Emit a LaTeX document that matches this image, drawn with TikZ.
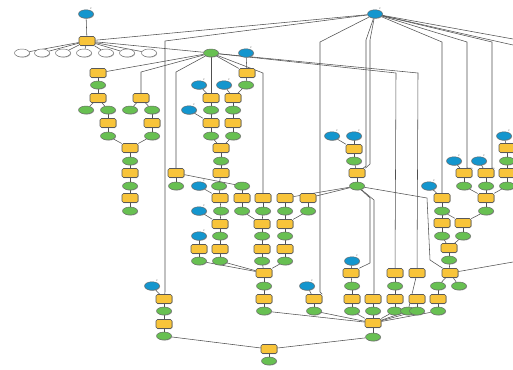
\documentclass[tikz,border=0pt]{standalone}
\usepackage{fontspec}
\usetikzlibrary{shapes.geometric,backgrounds,shadows}
\definecolor{ycol}{RGB}{248,196,58}
\definecolor{gcol}{RGB}{104,192,82}
\definecolor{bcol}{RGB}{20,150,206}
\definecolor{ecol}{RGB}{80,80,80}
\begin{document}
\begin{tikzpicture}[x=1pt,y=-1pt,
  shd/.style={drop shadow={shadow xshift=0.6pt,shadow yshift=-0.6pt,fill=black!50,opacity=0.6}},
  ytool/.style={rectangle,rounded corners=1.5pt,fill=ycol,draw=black!65,line width=0.55pt,minimum width=16pt,minimum height=9pt,inner sep=0pt,shd},
  gdata/.style={ellipse,fill=gcol,draw=black!60,line width=0.45pt,minimum width=15pt,minimum height=8pt,inner sep=0pt,shd},
  bvar/.style={ellipse,fill=bcol,draw=black!60,line width=0.45pt,minimum width=15pt,minimum height=8.5pt,inner sep=0pt,shd,
     label={[font=\tiny,scale=0.45,inner sep=0.2pt,text=black!60]45:P}},
  wout/.style={ellipse,fill=white,draw=black!60,line width=0.45pt,minimum width=15pt,minimum height=8pt,inner sep=0pt,shd},
  conn/.style={draw=ecol,line width=0.55pt}]
\useasboundingbox (0,0) rectangle (513,369);
% ---------- blue variables
\node[bvar] (b1) at (86,14) {};
\node[bvar] (b2) at (375,14) {};
\node[bvar] (b3) at (246,53) {};
\node[bvar] (b4) at (199,85) {};
\node[bvar] (b5) at (224,85) {};
\node[bvar] (b6) at (189,110) {};
\node[bvar] (b7) at (199,186) {};
\node[bvar] (b8) at (199,211) {};
\node[bvar] (b9) at (199,236) {};
\node[bvar] (b10) at (332,136) {};
\node[bvar] (b11) at (354,136) {};
\node[bvar] (b12) at (429,186) {};
\node[bvar] (b13) at (454,161) {};
\node[bvar] (b14) at (479,161) {};
\node[bvar] (b15) at (504,136) {};
\node[bvar] (b16) at (152,286) {};
\node[bvar] (b17) at (307,286) {};
\node[bvar] (b18) at (352,261) {};
% ---------- white outputs
\node[wout] (w1) at (22,53) {};
\node[wout] (w2) at (42,53) {};
\node[wout] (w3) at (63,53) {};
\node[wout] (w4) at (84,53) {};
\node[wout] (w5) at (106,53) {};
\node[wout] (w6) at (127,53) {};
\node[wout] (w7) at (149,53) {};
% ---------- yellow tools
\node[ytool] (y1) at (87,41) {};
\node[ytool] (ya) at (98,73) {};
\node[ytool] (yb) at (98,98) {};
\node[ytool] (yc) at (141,98) {};
\node[ytool] (yd) at (108,123) {};
\node[ytool] (ye) at (152,123) {};
\node[ytool] (yf) at (130,148) {};
\node[ytool] (yg) at (130,173) {};
\node[ytool] (yh) at (130,198) {};
\node[ytool] (yi) at (247,73) {};
\node[ytool] (yj) at (211,98) {};
\node[ytool] (yk) at (233,98) {};
\node[ytool] (yl) at (211,123) {};
\node[ytool] (ym) at (233,123) {};
\node[ytool] (yn) at (221,148) {};
\node[ytool] (yo) at (221,173) {};
\node[ytool] (yp) at (176,173) {};
\node[ytool] (yq) at (220,198) {};
\node[ytool] (yr) at (242,198) {};
\node[ytool] (ys) at (263,198) {};
\node[ytool] (yt) at (285,198) {};
\node[ytool] (yu) at (308,198) {};
\node[ytool] (yv) at (220,224) {};
\node[ytool] (yw) at (262,224) {};
\node[ytool] (yx) at (285,224) {};
\node[ytool] (yy) at (199,249) {};
\node[ytool] (yz) at (220,249) {};
\node[ytool] (yaa) at (262,249) {};
\node[ytool] (ybb) at (285,249) {};
\node[ytool] (ycc) at (264,273) {};
\node[ytool] (ydd) at (264,299) {};
\node[ytool] (yee) at (354,149) {};
\node[ytool] (yff) at (357,173) {};
\node[ytool] (ygg) at (442,198) {};
\node[ytool] (yhh) at (464,173) {};
\node[ytool] (yii) at (486,173) {};
\node[ytool] (yjj) at (507,148) {};
\node[ytool] (ykk) at (507,173) {};
\node[ytool] (yll) at (486,198) {};
\node[ytool] (ymm) at (442,223) {};
\node[ytool] (ynn) at (463,223) {};
\node[ytool] (yoo) at (449,248) {};
\node[ytool] (ypp) at (351,273) {};
\node[ytool] (yqq) at (395,273) {};
\node[ytool] (yrr) at (417,273) {};
\node[ytool] (yss) at (450,273) {};
\node[ytool] (ytt) at (164,299) {};
\node[ytool] (yuu) at (164,324) {};
\node[ytool] (yvv) at (314,299) {};
\node[ytool] (yww) at (352,299) {};
\node[ytool] (yxx) at (373,299) {};
\node[ytool] (yyy) at (395,299) {};
\node[ytool] (yzz) at (417,299) {};
\node[ytool] (y3a) at (438,299) {};
\node[ytool] (y3b) at (373,323) {};
\node[ytool] (y3c) at (269,349) {};
% ---------- green data
\node[gdata] (g1) at (211,53) {};
\node[gdata] (ga) at (98,85) {};
\node[gdata] (gb) at (86,110) {};
\node[gdata] (gc) at (108,110) {};
\node[gdata] (gd) at (130,110) {};
\node[gdata] (ge) at (152,110) {};
\node[gdata] (gf) at (108,136) {};
\node[gdata] (gg) at (152,136) {};
\node[gdata] (gh) at (130,161) {};
\node[gdata] (gi) at (130,186) {};
\node[gdata] (gj) at (130,211) {};
\node[gdata] (gk) at (246,85) {};
\node[gdata] (gl) at (211,110) {};
\node[gdata] (gm) at (233,110) {};
\node[gdata] (gn1) at (211,136) {};
\node[gdata] (go) at (233,136) {};
\node[gdata] (gp) at (221,161) {};
\node[gdata] (gq) at (176,186) {};
\node[gdata] (gr) at (219,186) {};
\node[gdata] (gs) at (242,186) {};
\node[gdata] (gt) at (221,211) {};
\node[gdata] (gu) at (242,211) {};
\node[gdata] (gv) at (263,211) {};
\node[gdata] (gw) at (285,211) {};
\node[gdata] (gx) at (308,211) {};
\node[gdata] (gy) at (220,236) {};
\node[gdata] (gz) at (262,236) {};
\node[gdata] (gaa) at (285,236) {};
\node[gdata] (gbb) at (199,261) {};
\node[gdata] (gcc) at (220,261) {};
\node[gdata] (gdd) at (262,261) {};
\node[gdata] (gee) at (285,261) {};
\node[gdata] (gff) at (264,286) {};
\node[gdata] (ggg) at (264,311) {};
\node[gdata] (ghh) at (354,161) {};
\node[gdata] (gii) at (357,186) {};
\node[gdata] (gjj) at (464,186) {};
\node[gdata] (gkk) at (486,186) {};
\node[gdata] (gll) at (507,186) {};
\node[gdata] (gmm) at (507,161) {};
\node[gdata] (gnn) at (486,211) {};
\node[gdata] (goo) at (442,211) {};
\node[gdata] (gpp) at (442,236) {};
\node[gdata] (gqq) at (463,236) {};
\node[gdata] (grr) at (449,260) {};
\node[gdata] (gss) at (352,286) {};
\node[gdata] (gtt) at (395,286) {};
\node[gdata] (guu) at (438,286) {};
\node[gdata] (gvv) at (459,286) {};
\node[gdata] (gww) at (164,311) {};
\node[gdata] (gxx) at (164,336) {};
\node[gdata] (gyy) at (314,311) {};
\node[gdata] (gzz) at (352,311) {};
\node[gdata] (g3a) at (373,311) {};
\node[gdata] (g3b) at (395,311) {};
\node[gdata] (g3c) at (408,311) {};
\node[gdata] (g3d) at (417,311) {};
\node[gdata] (g3e) at (438,311) {};
\node[gdata] (g3f) at (373,337) {};
\node[gdata] (g3g) at (269,361) {};
\coordinate (re1) at (513,39);
\coordinate (re2) at (513,45);
\coordinate (re4) at (513,262);
% ---------- connectors
\begin{scope}[on background layer]
\path[conn] (b1)--(y1);
\foreach \w in {w1,w2,w3,w4,w5,w6,w7} \path[conn] (y1)--(\w);
\path[conn] (y1)--(b2);
\path[conn] (y1)--(g1);
\path[conn] (b2)--(165,41)--(165,292)--(ytt);
\path[conn] (b2)--(320,42)--(320,292)--(yvv.north east);
\path[conn] (b2)--(366,40)--(366,166)--(yff);
\path[conn] (b2)--(370,40)--(370,164)--(yff.north east);
\path[conn] (b2)--(442,42)--(ygg);
\path[conn] (b2)--(467,42)--(467,168)--(yhh.north east);
\path[conn] (b2)--(492,42)--(492,168)--(yii.north east);
\path[conn] (b2)--(re1);
\path[conn] (b2)--(re2);
\path[conn] (b3)--(yi);
\path[conn] (g1)--(ya);
\path[conn] (g1)--(141,72)--(yc);
\path[conn] (g1)--(176,72)--(yp);
\path[conn] (g1)--(yj);
\path[conn] (g1)--(yi);
\path[conn] (g1)--(263,73)--(ys);
\path[conn] (g1)--(396,73)--(yqq);
\path[conn] (g1)--(418,73)--(yrr);
% left column
\path[conn] (ya)--(ga); \path[conn] (ga)--(yb);
\path[conn] (yb)--(gb); \path[conn] (yb)--(gc);
\path[conn] (gc)--(yd); \path[conn] (yd)--(gf); \path[conn] (gf)--(yf);
\path[conn] (yc)--(gd); \path[conn] (yc)--(ge);
\path[conn] (ge)--(ye); \path[conn] (ye)--(gg); \path[conn] (gg)--(yf);
\path[conn] (yf)--(gh); \path[conn] (gh)--(yg); \path[conn] (yg)--(gi);
\path[conn] (gi)--(yh); \path[conn] (yh)--(gj);
% centre
\path[conn] (yi)--(gk); \path[conn] (gk)--(yk);
\path[conn] (b4)--(yj); \path[conn] (b5)--(yk);
\path[conn] (yj)--(gl); \path[conn] (yk)--(gm);
\path[conn] (b6)--(yl); \path[conn] (gl)--(yl); \path[conn] (gm)--(ym);
\path[conn] (yl)--(gn1); \path[conn] (ym)--(go);
\path[conn] (gn1)--(yn); \path[conn] (go)--(yn);
\path[conn] (yn)--(gp); \path[conn] (gp)--(yo); \path[conn] (yo)--(gr);
\path[conn] (yp)--(gq); \path[conn] (yp)--(gs);
\path[conn] (b7)--(yq); \path[conn] (gr)--(yq); \path[conn] (gs)--(yr);
\path[conn] (yq)--(gt); \path[conn] (yr)--(gu);
\path[conn] (b8)--(yv); \path[conn] (gt)--(yv);
\path[conn] (gu)--(yw); \path[conn] (ys)--(gv); \path[conn] (gv)--(yw);
\path[conn] (yt)--(gw); \path[conn] (yu)--(gx);
\path[conn] (gw)--(yx); \path[conn] (gx)--(yx);
\path[conn] (yv)--(gy); \path[conn] (b9)--(yy); \path[conn] (gy)--(yz);
\path[conn] (yw)--(gz); \path[conn] (yx)--(gaa);
\path[conn] (gz)--(yaa); \path[conn] (gaa)--(ybb);
\path[conn] (yy)--(gbb); \path[conn] (yz)--(gcc);
\path[conn] (yaa)--(gdd); \path[conn] (ybb)--(gee);
\path[conn] (gbb)--(ycc); \path[conn] (gcc)--(ycc);
\path[conn] (gdd)--(ycc); \path[conn] (gee)--(ycc);
\path[conn] (ycc)--(gff); \path[conn] (gff)--(ydd); \path[conn] (ydd)--(ggg);
\path[conn] (ggg)--(y3b);
% right centre
\path[conn] (b10)--(yee); \path[conn] (b11)--(yee);
\path[conn] (yee)--(ghh); \path[conn] (ghh)--(yff); \path[conn] (yff)--(gii);
\path[conn] (gii)--(yt); \path[conn] (gii)--(yu);
\path[conn] (gii)--(427,198)--(430,260)--(yss);
\path[conn] (gii)--(370,198)--(370,263)--(ypp.north east);
\path[conn] (gii)--(374,200)--(374,293)--(yxx);
% right
\path[conn] (b12)--(ygg); \path[conn] (ygg)--(goo);
\path[conn] (goo)--(ymm); \path[conn] (goo)--(ynn);
\path[conn] (b13)--(yhh); \path[conn] (b14)--(yii);
\path[conn] (yhh)--(gjj); \path[conn] (yii)--(gkk);
\path[conn] (b15)--(yjj); \path[conn] (yjj)--(gmm); \path[conn] (gmm)--(ykk); \path[conn] (ykk)--(gll);
\path[conn] (gjj)--(yll); \path[conn] (gkk)--(yll); \path[conn] (gll)--(yll);
\path[conn] (yll)--(gnn); \path[conn] (gnn)--(ynn);
\path[conn] (ymm)--(gpp); \path[conn] (ynn)--(gqq);
\path[conn] (gpp)--(yoo); \path[conn] (gqq)--(yoo); \path[conn] (yoo)--(grr);
\path[conn] (grr)--(yss);
\path[conn] (re4)--(yss);
\path[conn] (yss)--(guu); \path[conn] (yss)--(gvv);
\path[conn] (guu)--(y3a); \path[conn] (y3a)--(g3e); \path[conn] (g3e)--(y3b);
% bottom
\path[conn] (b16)--(ytt); \path[conn] (ytt)--(gww); \path[conn] (gww)--(yuu);
\path[conn] (yuu)--(gxx); \path[conn] (gxx)--(y3c); \path[conn] (y3c)--(g3g);
\path[conn] (y3b)--(g3f); \path[conn] (g3f)--(y3c);
\path[conn] (b17)--(yvv); \path[conn] (yvv)--(gyy); \path[conn] (gyy)--(y3b);
\path[conn] (b18)--(ypp); \path[conn] (ypp)--(gss); \path[conn] (gss)--(yww);
\path[conn] (yww)--(gzz); \path[conn] (gzz)--(y3b);
\path[conn] (yxx)--(g3a); \path[conn] (g3a)--(y3b);
\path[conn] (yqq)--(gtt); \path[conn] (gtt)--(yyy); \path[conn] (yyy)--(g3b); \path[conn] (g3b)--(y3b);
\path[conn] (yrr)--(g3c); \path[conn] (g3c)--(y3b);
\path[conn] (yzz)--(g3d); \path[conn] (g3d)--(y3b);
\end{scope}
\end{tikzpicture}
\end{document}
